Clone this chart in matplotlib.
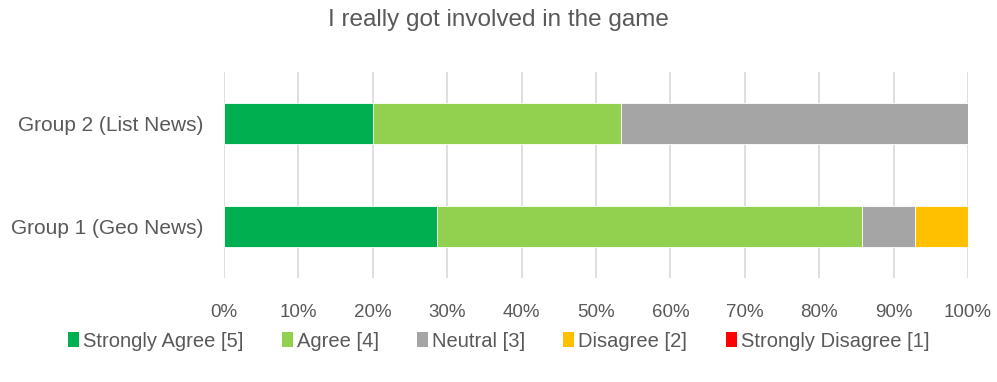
import matplotlib
matplotlib.use("Agg")
import matplotlib.pyplot as plt
from matplotlib.patches import Patch

plt.rcParams["font.family"] = ["Liberation Sans", "DejaVu Sans"]

TITLE = "I really got involved in the game"
GROUPS = ["Group 1 (Geo News)", "Group 2 (List News)"]
LEVELS = ["Strongly Agree [5]", "Agree [4]", "Neutral [3]",
          "Disagree [2]", "Strongly Disagree [1]"]
COLORS = ["#00b050", "#92d050", "#a5a5a5", "#ffc000", "#ff0000"]

# share of responses per level, one list per level (Group 1, Group 2)
strongly_agree = [4 / 14, 3 / 15]
agree = [8 / 14, 5 / 15]
neutral = [1 / 14, 7 / 15]
disagree = [1 / 14, 0.0]
strongly_disagree = [0.0, 0.0]
SHARES = [strongly_agree, agree, neutral, disagree, strongly_disagree]

TEXT = "#595959"

fig = plt.figure(figsize=(9.97, 3.82), dpi=100)
ax = fig.add_axes([0.2247, 0.272, 0.7463, 0.5395])

left = [0.0] * len(GROUPS)
for vals, color in zip(SHARES, COLORS):
    ax.barh(range(len(GROUPS)), vals, left=left, height=0.4, color=color,
            edgecolor="white", linewidth=0.6, zorder=3)
    left = [l + v for l, v in zip(left, vals)]

ax.set_xlim(0, 1)
ax.set_ylim(-0.5, 1.5)
ax.set_xticks([i / 10 for i in range(11)])
ax.set_xticklabels([f"{i * 10}%" for i in range(11)])
ax.set_yticks(range(len(GROUPS)))
ax.set_yticklabels(GROUPS)
ax.tick_params(axis="x", length=0, pad=18.5, labelsize=13.5, colors=TEXT)
ax.tick_params(axis="y", length=0, pad=15, labelsize=15, colors=TEXT)
ax.grid(True, axis="x", color="#d9d9d9", linewidth=1.2, zorder=0)
for s in ax.spines.values():
    s.set_visible(False)

fig.text(0.5, 0.948, TITLE, ha="center", va="center", fontsize=17.5, color=TEXT)

handles = [Patch(facecolor=c, edgecolor="none") for c in COLORS]
fig.legend(handles, LEVELS, loc="center", bbox_to_anchor=(0.5, 0.107), ncol=5,
           frameon=False, fontsize=14.5, labelcolor=TEXT, handlelength=0.55,
           handleheight=0.75, handletextpad=0.2, columnspacing=1.9)

fig.savefig("out.png", dpi=100)
